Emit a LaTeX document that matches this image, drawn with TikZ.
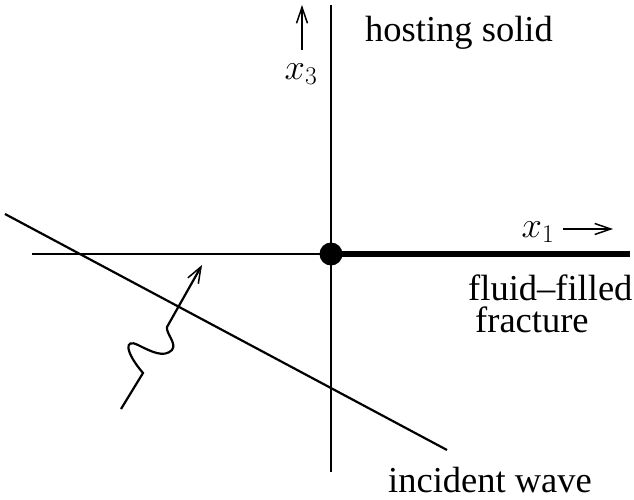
\RequirePackage{fix-cm}
\documentclass[tikz,border=0pt]{standalone}
\usepackage{fontspec}
\setmainfont{Liberation Serif}
\usetikzlibrary{arrows.meta}
\begin{document}
\begin{tikzpicture}[x=1pt,y=-1pt,
  thinline/.style={line width=2.2pt},
  axarrow/.style={line width=1.5pt,-{Straight Barb[length=16pt,width=11pt,line width=1.5pt]}},
  lbl/.style={font=\fontsize{36.5}{31.5}\selectfont, inner sep=0pt}]
\useasboundingbox (0,0) rectangle (634,500);
\coordinate (vt) at (331,5);
\coordinate (vb) at (331,472);
\coordinate (hl) at (32,254);
\coordinate (hr) at (630,254);
\node[circle,fill=black,minimum size=23pt,inner sep=0pt] (o) at (331,254) {};
\draw[thinline] (vt) -- (vb);
\draw[thinline] (hl) -- (o.center);
\draw[line width=6pt] (o.center) -- (hr);
% x3 axis arrow
\coordinate (a3s) at (302,50);
\coordinate (a3e) at (302,5);
\draw[axarrow] (a3s) -- (a3e);
\node[lbl] (x3) at (301,74) {$x_3$};
% x1 axis arrow
\node[lbl] (x1) at (538,232) {$x_1$};
\coordinate (a1s) at (563,229);
\coordinate (a1e) at (613,229);
\draw[axarrow] (a1s) -- (a1e);
% labels
\node[lbl] (hs) at (459,33) {hosting solid};
\node[lbl,align=left,anchor=west] (ff) at (468,304) {fluid\textendash filled\\\hspace*{7pt}fracture};
\node[lbl] (iw) at (490,480) {incident wave};
% incident wave front
\coordinate (w1) at (5,214);
\coordinate (w2) at (447,450);
\draw[thinline] (w1) -- (w2);
% wavy arrow
\coordinate (s0) at (121,409);
\coordinate (s1) at (143,373);
\coordinate (s2) at (167,327);
\coordinate (s3) at (202,265);
\draw[line width=2.2pt,-{Straight Barb[length=16pt,width=12pt,line width=1.5pt]}]
  (s0) -- (s1) .. controls (125,352) and (124,338) .. (138,345)
  .. controls (152,352) and (164,358) .. (172,350)
  .. controls (177,343) and (166,334) .. (s2) -- (s3);
\end{tikzpicture}
\end{document}
